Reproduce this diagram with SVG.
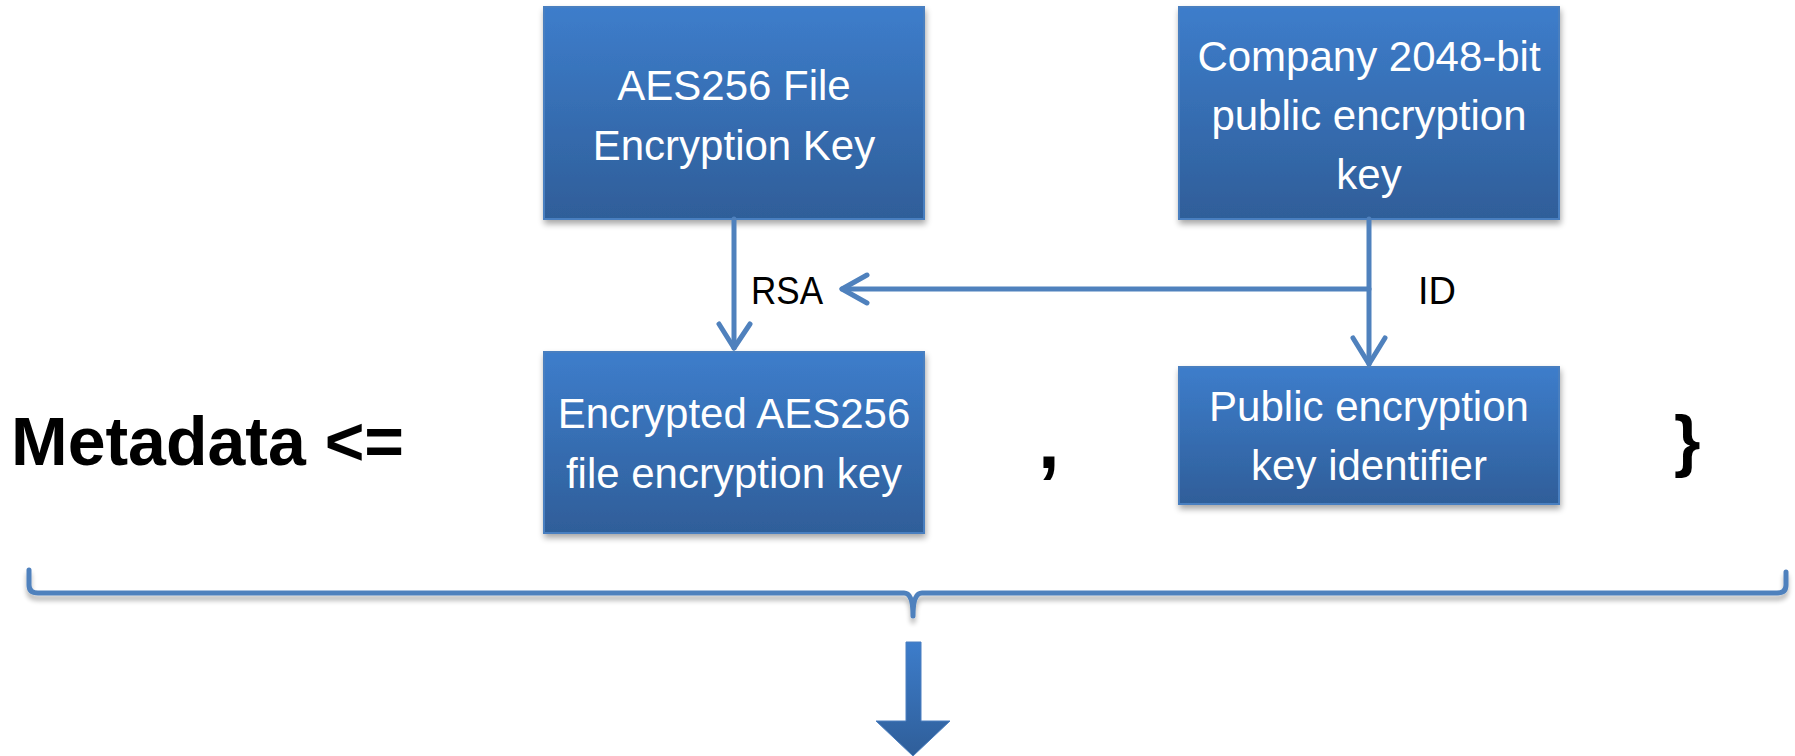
<svg xmlns="http://www.w3.org/2000/svg" width="1795" height="756" viewBox="0 0 1795 756">
  <defs>
    <linearGradient id="boxFill" x1="0" y1="0" x2="0" y2="1">
      <stop offset="0" stop-color="#3D7DCB"/>
      <stop offset="1" stop-color="#2F5E99"/>
    </linearGradient>
    <filter id="shadow" x="-10%" y="-10%" width="120%" height="130%">
      <feGaussianBlur in="SourceAlpha" stdDeviation="3"/>
      <feOffset dx="1" dy="4" result="b"/>
      <feComponentTransfer><feFuncA type="linear" slope="0.35"/></feComponentTransfer>
      <feMerge><feMergeNode/><feMergeNode in="SourceGraphic"/></feMerge>
    </filter>
    <filter id="lineShadow" x="-5%" y="-50%" width="110%" height="200%">
      <feGaussianBlur in="SourceAlpha" stdDeviation="2.5"/>
      <feOffset dx="0" dy="5"/>
      <feComponentTransfer><feFuncA type="linear" slope="0.3"/></feComponentTransfer>
      <feMerge><feMergeNode/><feMergeNode in="SourceGraphic"/></feMerge>
    </filter>
  </defs>
  <style>
    .box { fill: url(#boxFill); stroke: #4A7FC0; stroke-width: 2; filter: url(#shadow); }
    .boxText { font-family: "Liberation Sans", Arial, sans-serif; font-size: 42px; fill: #FFFFFF; text-anchor: middle; }
    .label { font-family: "Liberation Sans", Arial, sans-serif; font-size: 38px; fill: #000000; }
    .big { font-family: "Liberation Sans", Arial, sans-serif; font-size: 68px; font-weight: bold; fill: #000000; }
    .conn { fill: none; stroke: #4F81BD; stroke-width: 5; stroke-linecap: round; stroke-linejoin: round; }
  </style>

  <rect width="1795" height="756" fill="#FFFFFF"/>

  <!-- formula text -->
  <text class="big" x="11" y="465">Metadata &lt;=</text>
  <text class="big" x="1038" y="468" style="font-size:78px">,</text>
  <text class="big" x="1674" y="464">}</text>

  <!-- nodes -->
  <g id="aes-key">
    <rect class="box" x="544" y="7" width="380" height="212"/>
    <text class="boxText" x="734" y="100">AES256 File</text>
    <text class="boxText" x="734" y="160">Encryption Key</text>
  </g>
  <g id="company-public-key">
    <rect class="box" x="1179" y="7" width="380" height="212"/>
    <text class="boxText" x="1369" y="71">Company 2048-bit</text>
    <text class="boxText" x="1369" y="130">public encryption</text>
    <text class="boxText" x="1369" y="189">key</text>
  </g>
  <g id="encrypted-aes-key">
    <rect class="box" x="544" y="352" width="380" height="181"/>
    <text class="boxText" x="734" y="428">Encrypted AES256</text>
    <text class="boxText" x="734" y="488">file encryption key</text>
  </g>
  <g id="key-identifier">
    <rect class="box" x="1179" y="367" width="380" height="137"/>
    <text class="boxText" x="1369" y="421">Public encryption</text>
    <text class="boxText" x="1369" y="480">key identifier</text>
  </g>

  <!-- connectors -->
  <g id="connectors">
    <path class="conn" d="M734,219 V348"/>
    <path class="conn" d="M719,324 L734,348 L750,324"/>
    <path class="conn" d="M1369,219 V364"/>
    <path class="conn" d="M1369,289 H842"/>
    <path class="conn" d="M867,275 L842,289 L867,303"/>
    <path class="conn" d="M1353,338 L1369,364 L1385,338"/>
    <text class="label" x="751" y="304" textLength="72" lengthAdjust="spacingAndGlyphs">RSA</text>
    <text class="label" x="1418" y="304">ID</text>
  </g>

  <!-- grouping brace and result arrow -->
  <g id="brace">
    <path class="conn" filter="url(#lineShadow)" d="M29,570 V585 Q29,593 38,593 H904 Q913,593 913,616 Q913,593 922,593 H1777 Q1786,593 1786,585 V572"/>
  </g>
  <g id="result-arrow">
    <polygon points="906,642 921,642 921,721 950,721 913,756 876,721 906,721" fill="url(#boxFill)" stroke="#4A7FC0" stroke-width="1"/>
  </g>
</svg>
